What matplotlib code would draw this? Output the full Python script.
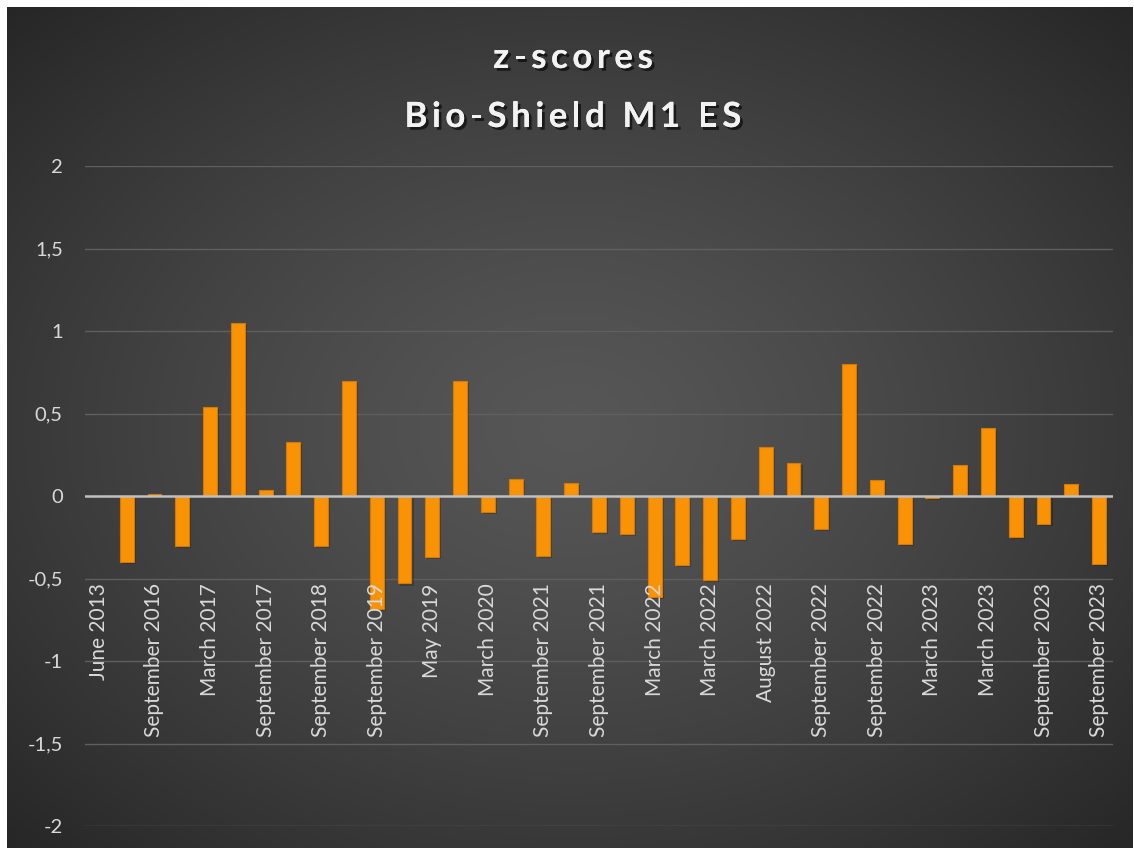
import matplotlib
matplotlib.use('Agg')
import matplotlib.pyplot as plt
import matplotlib.patheffects as pe
from matplotlib.font_manager import FontProperties
import numpy as np

# z-scores per period (first period has no value)
z_scores = [0.0, -0.40, 0.012, -0.30, 0.537, 1.048, 0.036, 0.327, -0.30, 0.70,
            -0.683, -0.53, -0.37, 0.70, -0.097, 0.105, -0.364, 0.079, -0.22,
            -0.23, -0.61, -0.42, -0.51, -0.262, 0.299, 0.198, -0.20, 0.80,
            0.099, -0.29, -0.01, 0.19, 0.41, -0.248, -0.172, 0.071, -0.41]

# only every second category carries a visible label
shown_labels = ['June 2013', 'September 2016', 'March 2017', 'September 2017',
                'September 2018', 'September 2019', 'May 2019', 'March 2020',
                'September 2021', 'September 2021', 'March 2022', 'March 2022',
                'August 2022', 'September 2022', 'September 2022', 'March 2023',
                'March 2023', 'September 2023', 'September 2023']

y_ticks = [2, 1.5, 1, 0.5, 0, -0.5, -1, -1.5, -2]

FONT = 'Lato'
TXT = '#d9d9d9'

W, H = 1134, 848
fig = plt.figure(figsize=(W / 100, H / 100), dpi=100, facecolor='white')

# radial gradient background
bg = fig.add_axes([7 / W, 0, (1133 - 7) / W, (H - 7) / H])
bg.set_axis_off()
gy, gx = np.mgrid[0:400, 0:540]
cx, cy = 270, 200
r = np.sqrt(((gx - cx) / 540) ** 2 + ((gy - cy) / 400) ** 2) / 0.707
shade = 0.34 - 0.19 * np.clip(r, 0, 1) ** 1.3
bg.imshow(np.dstack([shade, shade, shade]), aspect='auto', extent=[0, 1, 0, 1],
          interpolation='bicubic')
bg.set_xlim(0, 1)
bg.set_ylim(0, 1)

ax = fig.add_axes([85 / W, 1 - 826 / H, (1113 - 85) / W, (826 - 166) / H])
ax.patch.set_alpha(0)

x = np.arange(len(z_scores))
ax.bar(x, z_scores, width=0.5, color='#FA9206', edgecolor='#D27A05', linewidth=0.8,
       zorder=3,
       path_effects=[pe.SimplePatchShadow(offset=(1.5, -1.5), shadow_rgbFace='black', alpha=0.22),
                     pe.Normal()])

ax.set_xlim(-0.5, len(z_scores) - 0.5)
ax.set_ylim(-2, 2)
ax.set_yticks(y_ticks)
ax.set_yticklabels([f'{v:g}'.replace('.', ',') for v in y_ticks],
                   fontsize=14.5, color=TXT, family=FONT)
ax.tick_params(axis='y', length=0, pad=16)
ax.set_xticks([])
for s in ax.spines.values():
    s.set_visible(False)
ax.grid(axis='y', color='#5f5f5f', linewidth=1.0, zorder=1)
ax.axhline(0, color='#bfbfbf', linewidth=1.8, zorder=4)

for i, lab in enumerate(shown_labels):
    ax.text(x[2 * i], -0.53, lab, rotation=90, ha='center', va='top',
            fontsize=15, color=TXT, family=FONT, zorder=5)

# title with extra letter spacing
shadow = [pe.withSimplePatchShadow(offset=(2, -2), shadow_rgbFace='black', alpha=0.6),
          pe.Normal()]
renderer = fig.canvas.get_renderer()
fp = FontProperties(family=FONT, weight='bold', size=25)


def spaced_title(s, xc, y_base, spacing=4.6):
    widths = [renderer.get_text_width_height_descent(s[:k], fp, ismath=False)[0]
              if k else 0.0 for k in range(len(s) + 1)]
    total = widths[-1] + spacing * (len(s) - 1)
    left = xc - total / 2
    for k, ch in enumerate(s):
        if ch == ' ':
            continue
        px = left + widths[k] + spacing * k
        fig.text(px / W, 1 - y_base / H, ch, ha='left', va='baseline',
                 fontproperties=fp, color='#f2f2f2', path_effects=shadow)


spaced_title('z-scores', 573, 68)
spaced_title('Bio-Shield M1 ES', 573, 127)

fig.savefig('out.png', dpi=100, facecolor='white')
